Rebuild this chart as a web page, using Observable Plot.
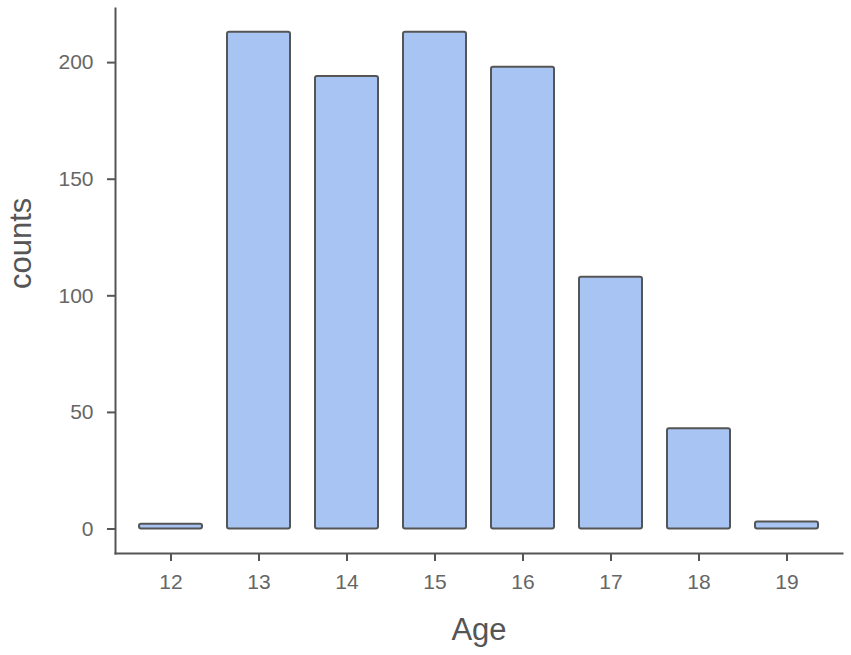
<!DOCTYPE html>
<html>
<head>
<meta charset="utf-8">
<script src="https://cdn.jsdelivr.net/npm/d3@7"></script>
<script src="https://cdn.jsdelivr.net/npm/@observablehq/plot@0.6"></script>
<style>
  html, body { margin: 0; padding: 0; background: #fff; }
  #chart svg { display: block; }
</style>
</head>
<body>
<div id="chart"></div>
<script>
const ages = ["12", "13", "14", "15", "16", "17", "18", "19"];
const counts = [2, 213, 194, 213, 198, 108, 43, 3];
const yTicks = [0, 50, 100, 150, 200];

const data = ages.map((a, i) => ({age: a, count: counts[i]}));

const axisColor = "#555";
const plot = Plot.plot({
  width: 851,
  height: 655,
  marginLeft: 115,
  marginRight: 9,
  marginTop: 8,
  marginBottom: 102,
  style: {fontFamily: "'Liberation Sans', Arial, sans-serif", fontSize: "21px", color: "#666", background: "#fff"},
  x: {domain: ages, paddingInner: 0.289, paddingOuter: 0.243, label: null},
  y: {domain: [-10.5, 223.2], label: null},
  marks: [
    Plot.barY(data, {x: "age", y1: 0, y2: "count", fill: "#a7c4f2", stroke: "#555", strokeWidth: 2, rx: 2}),
    Plot.axisY({ticks: yTicks, tickSize: 8, tickPadding: 14, stroke: axisColor, strokeWidth: 2, fill: "#666", fontSize: 21, label: null}),
    Plot.axisX({tickSize: 8, tickPadding: 13, stroke: axisColor, strokeWidth: 2, fill: "#666", fontSize: 21, label: null}),
    Plot.frame({anchor: "left", stroke: axisColor, strokeWidth: 2}),
    Plot.frame({anchor: "bottom", stroke: axisColor, strokeWidth: 2}),
    Plot.text(["Age"], {frameAnchor: "bottom", dy: 86, fontSize: 31, fill: "#555"}),
    Plot.text(["counts"], {frameAnchor: "left", dx: -94, dy: 8, rotate: -90, fontSize: 31, fill: "#555"})
  ]
});
document.getElementById("chart").appendChild(plot);
</script>
</body>
</html>
